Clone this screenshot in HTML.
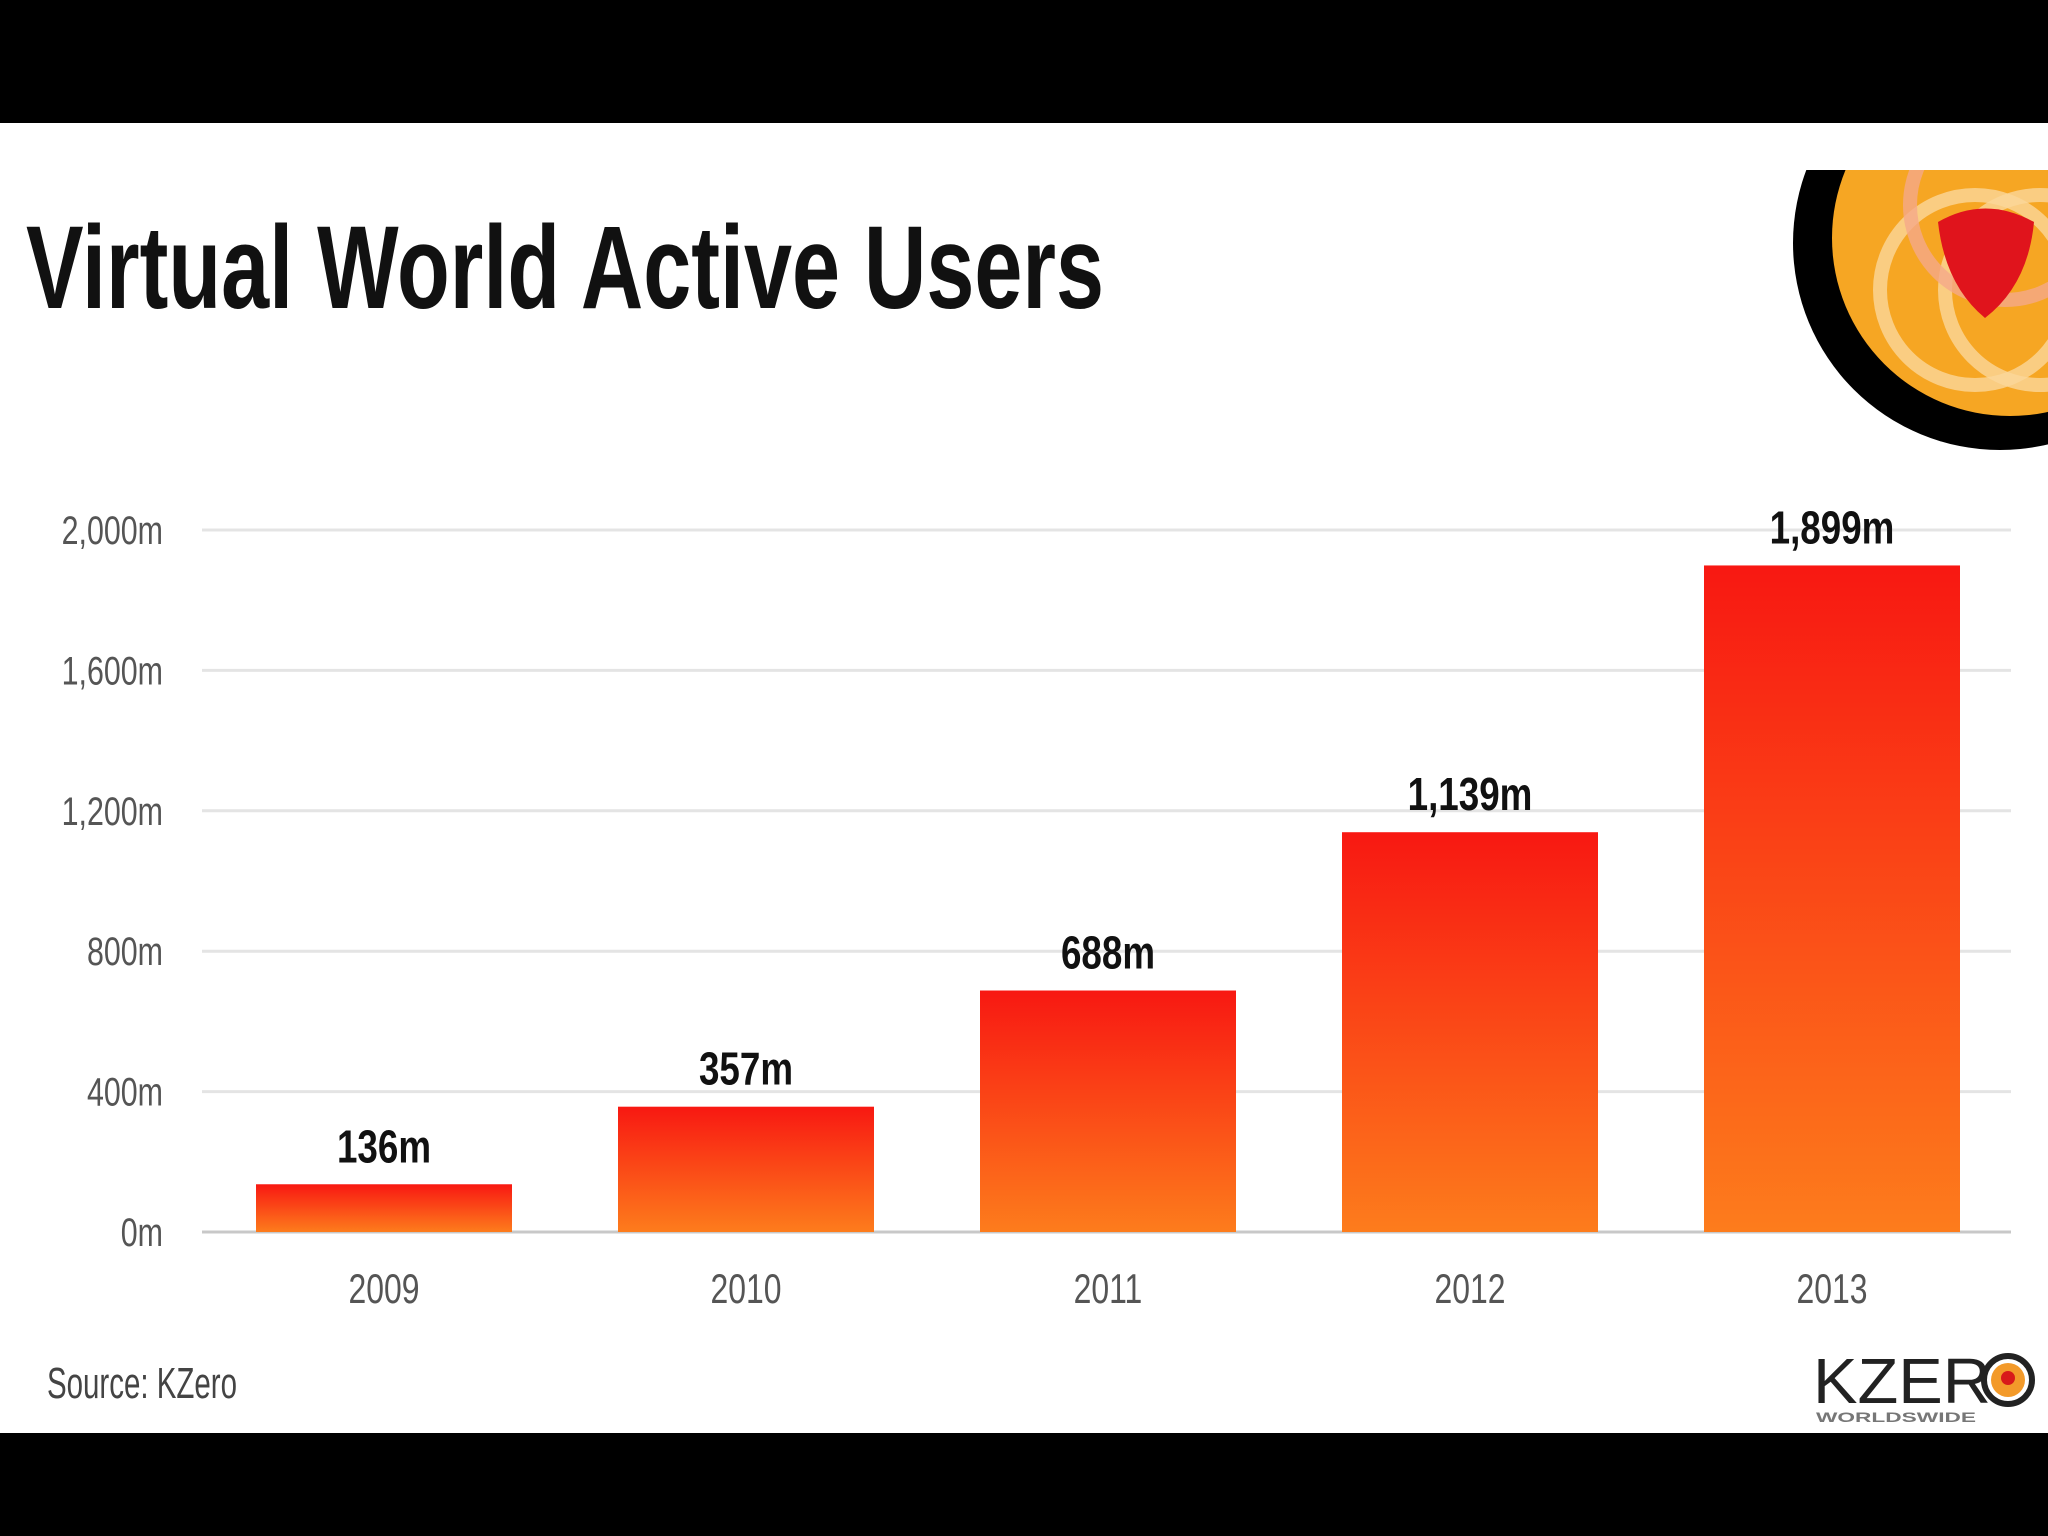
<!DOCTYPE html>
<html><head><meta charset="utf-8"><style>
html,body{margin:0;padding:0;background:#000;}
svg{display:block}
</style></head><body>
<svg id="chart" width="2048" height="1536" viewBox="0 0 2048 1536" xmlns="http://www.w3.org/2000/svg" font-family="'Liberation Sans', sans-serif">
<defs>
<linearGradient id="barGrad" x1="0" y1="0" x2="0" y2="1">
<stop offset="0" stop-color="#f81812"/><stop offset="1" stop-color="#fd7c1c"/>
</linearGradient>
<clipPath id="logoClip"><rect x="1700" y="170" width="348" height="320"/></clipPath>
</defs>
<rect x="0" y="0" width="2048" height="123" fill="#000"/>
<rect x="0" y="123" width="2048" height="1310" fill="#fff"/>
<rect x="0" y="1433" width="2048" height="103" fill="#000"/>
<text x="26" y="308" font-size="118" font-weight="bold" fill="#111" textLength="1078" lengthAdjust="spacingAndGlyphs">Virtual World Active  Users</text>
<g clip-path="url(#logoClip)">
<circle cx="2000" cy="243" r="207" fill="#000"/>
<circle cx="2010" cy="238" r="178" fill="#f6a623"/>
<circle cx="1975" cy="290" r="95" fill="none" stroke="#fbd79a" stroke-width="14" opacity="0.8"/>
<circle cx="2040" cy="290" r="95" fill="none" stroke="#fbd79a" stroke-width="14" opacity="0.8"/>
<circle cx="2005" cy="205" r="95" fill="none" stroke="#f5a98a" stroke-width="14" opacity="0.8"/>
<path d="M1938 222 Q1985 195 2034 222 Q2028 285 1985 318 Q1945 285 1938 222Z" fill="#e0141c"/>
</g>
<g id="grid"></g>
<g id="yticks"></g>
<g id="bars"></g>
<g id="xticks"></g>
<text x="47" y="1398" font-size="44" fill="#444" textLength="190" lengthAdjust="spacingAndGlyphs">Source: KZero</text>
<g>
<text x="1813" y="1403" font-size="64" fill="#222" textLength="178" lengthAdjust="spacingAndGlyphs">KZER</text>
<circle cx="2008" cy="1380" r="24" fill="none" stroke="#222" stroke-width="6"/>
<circle cx="2008" cy="1380" r="17" fill="#f39a2a"/>
<circle cx="2008" cy="1378" r="7" fill="#d81a1a"/>
<text x="1816" y="1422" font-size="14" font-weight="bold" fill="#777" textLength="160" lengthAdjust="spacingAndGlyphs">WORLDSWIDE</text>
</g>
</svg>
<script>
const categories = ["2009","2010","2011","2012","2013"];
const values = [136,357,688,1139,1899];
const valueLabels = ["136m","357m","688m","1,139m","1,899m"];
const yTicks = [0,400,800,1200,1600,2000];
const yTickLabels = ["0m","400m","800m","1,200m","1,600m","2,000m"];
const NS="http://www.w3.org/2000/svg";
const y0=1232, y1=530, yMax=2000;
function yScale(v){return y0-(v/yMax)*(y0-y1);}
const bandStart=202, band=362, barW=256;
function xCenter(i){return bandStart+182+band*i;}
function mk(tag,attrs,parent,txt){const e=document.createElementNS(NS,tag);for(const k in attrs)e.setAttribute(k,attrs[k]);if(txt!==undefined)e.textContent=txt;parent.appendChild(e);return e;}
const grid=document.getElementById('grid'),yt=document.getElementById('yticks'),bars=document.getElementById('bars'),xt=document.getElementById('xticks');
yTicks.forEach((t,i)=>{
  const l=mk('line',{x1:202,x2:2011,y1:yScale(t),y2:yScale(t),stroke:i===0?'#c8c8c8':'#e4e4e4','stroke-width':3},grid);
  
  
  const tx=mk('text',{x:163,y:yScale(t)+14,'font-size':40,fill:'#555','text-anchor':'end',transform:`translate(163 0) scale(0.76 1) translate(-163 0)`},yt,yTickLabels[i]);
  
  
});
values.forEach((v,i)=>{
  const cx=xCenter(i), top=yScale(v);
  const r=mk('rect',{x:cx-barW/2,y:top,width:barW,height:y0-top,fill:'url(#barGrad)'},bars);
  
  
  const lt=mk('text',{x:cx,y:top-22,'font-size':46,'font-weight':'bold',fill:'#111','text-anchor':'middle',transform:`translate(${cx} 0) scale(0.8 1) translate(${-cx} 0)`},bars,valueLabels[i]);
  
  
  const xl=mk('text',{x:cx,y:1303,'font-size':42,fill:'#555','text-anchor':'middle',transform:`translate(${cx} 0) scale(0.76 1) translate(${-cx} 0)`},xt,categories[i]);
  
  
});
</script>
</body></html>
